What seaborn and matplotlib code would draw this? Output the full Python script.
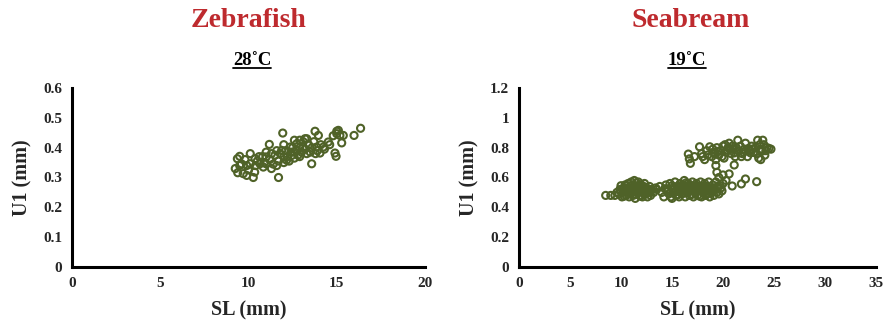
import matplotlib
matplotlib.use("Agg")
import matplotlib.pyplot as plt
import seaborn as sns
import pandas as pd
from matplotlib.lines import Line2D

# Zebrafish, 28 °C: standard length (mm) vs U1 (mm)
zebra_sl = [9.25, 9.37, 9.5, 9.39, 9.7, 9.9, 10.27, 10.1, 10.1, 10.35, 9.9, 9.6,
            10.37, 10.65, 11.0, 11.18, 11.0, 11.3, 10.84, 11.6, 11.7, 11.94, 11.88,
            12.0, 12.16, 12.35, 12.45, 12.6, 12.73, 12.9, 13.1, 13.2, 13.3, 13.58,
            13.77, 13.96, 13.86, 14.05, 14.24, 14.52, 14.9, 14.96, 15.0, 15.09,
            15.18, 15.28, 15.37, 15.98, 16.35,
            10.5, 10.8, 11.0, 11.2, 11.4, 11.5, 11.7, 11.8, 12.0, 12.1, 12.2, 12.3,
            12.4, 12.5, 12.6, 12.7, 12.8, 12.9, 13.0, 13.1, 13.2, 13.4, 13.5, 13.6,
            13.7, 13.9, 14.1, 14.3, 14.6, 12.0, 12.6, 13.3, 11.3, 10.9, 10.6, 9.5,
            9.8, 10.0, 10.4, 11.6, 12.9, 13.8, 15.0, 14.8]
zebra_u1 = [0.330, 0.363, 0.371, 0.316, 0.313, 0.307, 0.300, 0.380, 0.346, 0.318,
            0.340, 0.346, 0.363, 0.346, 0.369, 0.411, 0.346, 0.330, 0.335, 0.340,
            0.300, 0.449, 0.391, 0.369, 0.358, 0.402, 0.374, 0.385, 0.413, 0.425,
            0.402, 0.430, 0.380, 0.346, 0.455, 0.441, 0.402, 0.382, 0.402, 0.419,
            0.382, 0.371, 0.447, 0.458, 0.441, 0.416, 0.441, 0.441, 0.465,
            0.355, 0.370, 0.385, 0.360, 0.345, 0.375, 0.355, 0.380, 0.350, 0.390,
            0.370, 0.355, 0.385, 0.400, 0.365, 0.390, 0.375, 0.400, 0.385, 0.420,
            0.395, 0.410, 0.385, 0.400, 0.420, 0.390, 0.410, 0.395, 0.410, 0.410,
            0.425, 0.430, 0.380, 0.350, 0.370, 0.340, 0.360, 0.325, 0.340, 0.390,
            0.370, 0.380, 0.455, 0.440]

# Seabream, 19 °C: standard length (mm) vs U1 (mm)
bream_sl = [8.5, 9.0, 9.4, 9.8, 9.9, 10.1, 10.2, 10.3, 10.4, 10.5, 10.6, 10.7, 10.8,
            10.9, 11.0, 11.0, 11.1, 11.2, 11.3, 11.3, 11.4, 11.5, 11.6, 11.7, 11.8,
            11.9, 12.0, 12.1, 12.2, 12.3, 12.4, 12.5, 12.6, 12.7, 12.8, 12.9, 13.0,
            13.2, 13.4, 10.0, 10.6, 11.1, 11.5, 11.9, 12.2, 10.3, 10.8, 11.7, 12.6,
            9.6, 11.4, 12.0,
            10.2, 10.5, 10.9, 11.2, 11.6, 11.8, 12.1, 12.4, 12.8, 10.7, 11.3, 12.3,
            13.8, 14.0, 14.2, 14.4, 14.5, 14.7, 14.8, 15.0, 15.1, 15.2, 15.3, 15.4,
            15.5, 15.6, 15.7, 15.8, 15.9, 16.0, 16.1, 16.2, 16.3, 16.4, 16.5, 16.6,
            16.7, 16.8, 16.9, 17.0, 17.1, 17.2, 17.3, 17.4, 17.5, 17.6, 17.7, 17.8,
            17.9, 18.0, 18.1, 18.2, 18.3, 18.4, 18.5, 18.6, 18.7, 18.8, 18.9, 19.0,
            19.1, 19.2, 19.3, 19.4, 19.5, 19.6, 19.8, 20.0, 19.9, 14.6, 15.0, 15.6,
            16.0, 16.4, 16.9, 17.3, 17.7, 18.2, 18.6, 19.0, 13.5, 14.9, 15.8, 16.6,
            17.5, 18.4,
            15.2, 15.5, 15.9, 16.2, 16.7, 17.1, 17.6, 18.0, 18.8, 19.4, 14.3, 15.4,
            16.3, 17.2, 18.1, 19.7,
            19.3, 19.4, 20.0, 20.6, 21.1, 20.9, 21.8, 22.2, 23.3, 19.6, 20.3,
            16.6, 16.8, 16.7, 17.2, 17.7, 17.9, 18.2, 18.4, 18.7, 18.9, 19.1, 19.3,
            19.4, 19.6, 19.8, 20.0, 20.1, 20.3, 20.5, 20.6, 20.8, 21.0, 21.2, 21.45,
            21.5, 21.7, 21.9, 22.1, 22.2, 22.4, 22.6, 22.8, 23.0, 23.2, 23.4, 23.5,
            23.7, 23.7, 23.9, 24.0, 24.1, 24.3, 24.5, 24.7, 18.0, 19.0, 19.9, 20.7,
            21.3, 22.0, 22.9, 23.6, 24.2, 18.5, 20.2, 21.8, 23.3,
            19.5, 20.4, 21.1, 22.5, 23.8, 20.9, 22.7, 19.2]
bream_u1 = [0.48, 0.48, 0.48, 0.49, 0.52, 0.47, 0.50, 0.53, 0.55, 0.48, 0.51, 0.56,
            0.47, 0.53, 0.50, 0.57, 0.55, 0.48, 0.52, 0.58, 0.46, 0.54, 0.50, 0.57,
            0.48, 0.53, 0.55, 0.47, 0.51, 0.56, 0.49, 0.53, 0.47, 0.51, 0.54, 0.48,
            0.52, 0.50, 0.53, 0.545, 0.53, 0.51, 0.565, 0.475, 0.54, 0.475, 0.505,
            0.515, 0.525, 0.50, 0.49, 0.50,
            0.52, 0.545, 0.49, 0.535, 0.52, 0.55, 0.525, 0.51, 0.50, 0.50, 0.545, 0.535,
            0.54, 0.50, 0.47, 0.55, 0.52, 0.49, 0.56, 0.46, 0.53, 0.50, 0.57, 0.48,
            0.54, 0.51, 0.47, 0.56, 0.52, 0.49, 0.55, 0.58, 0.47, 0.53, 0.50, 0.56,
            0.48, 0.54, 0.51, 0.57, 0.47, 0.53, 0.50, 0.56, 0.48, 0.54, 0.51, 0.57,
            0.47, 0.53, 0.50, 0.56, 0.48, 0.54, 0.51, 0.57, 0.47, 0.53, 0.50, 0.55,
            0.48, 0.52, 0.57, 0.50, 0.54, 0.49, 0.53, 0.56, 0.51, 0.51, 0.545, 0.485,
            0.53, 0.565, 0.485, 0.535, 0.475, 0.525, 0.495, 0.515, 0.52, 0.47, 0.50,
            0.52, 0.52, 0.49,
            0.52, 0.535, 0.545, 0.515, 0.53, 0.545, 0.525, 0.54, 0.52, 0.535, 0.525,
            0.505, 0.505, 0.51, 0.515, 0.545,
            0.68, 0.635, 0.617, 0.624, 0.684, 0.543, 0.557, 0.59, 0.572, 0.60, 0.58,
            0.757, 0.695, 0.725, 0.74, 0.806, 0.76, 0.72, 0.78, 0.806, 0.74, 0.77,
            0.72, 0.80, 0.75, 0.78, 0.81, 0.73, 0.77, 0.80, 0.83, 0.76, 0.79, 0.74,
            0.85, 0.78, 0.81, 0.76, 0.79, 0.83, 0.74, 0.78, 0.81, 0.77, 0.80, 0.85,
            0.73, 0.72, 0.79, 0.85, 0.82, 0.75, 0.80, 0.795, 0.79, 0.74, 0.79, 0.74,
            0.79, 0.80, 0.77, 0.79, 0.82, 0.78, 0.75, 0.82, 0.74, 0.76,
            0.775, 0.785, 0.765, 0.795, 0.775, 0.81, 0.765, 0.76]

species = ["Zebrafish", "Seabream"]
temps = ["28˚C", "19˚C"]
x_limits = [(0, 20), (0, 35)]
x_ticks = [[0, 5, 10, 15, 20], [0, 5, 10, 15, 20, 25, 30, 35]]
y_limits = [(0, 0.6), (0, 1.2)]
y_ticks = [[0, 0.1, 0.2, 0.3, 0.4, 0.5, 0.6], [0, 0.2, 0.4, 0.6, 0.8, 1.0, 1.2]]
y_labels = [["0", "0.1", "0.2", "0.3", "0.4", "0.5", "0.6"],
            ["0", "0.2", "0.4", "0.6", "0.8", "1", "1.2"]]

sns.set_style("white")
plt.rcParams["font.family"] = ["Liberation Serif", "DejaVu Serif"]
plt.rcParams["font.weight"] = "bold"

MARKER = "#4F6228"
TITLE = "#BE2A2E"

W, H = 886, 320
fig = plt.figure(figsize=(W / 100, H / 100), dpi=100)
axes_boxes = [(72 / W, 1 - 267 / H, 353 / W, 179 / H),
              (519 / W, 1 - 267 / H, 357 / W, 179 / H)]
title_x = [249 / W, 691 / W]
temp_x = [252 / W, 687 / W]

frames = [pd.DataFrame({"SL": zebra_sl, "U1": zebra_u1}),
          pd.DataFrame({"SL": bream_sl, "U1": bream_u1})]

for i, df in enumerate(frames):
    ax = fig.add_axes(axes_boxes[i])
    sns.scatterplot(data=df, x="SL", y="U1", ax=ax, marker="o", s=26,
                    facecolors="none", edgecolor=MARKER, linewidth=1.5)
    ax.set_xlim(*x_limits[i])
    ax.set_ylim(*y_limits[i])
    ax.set_xticks(x_ticks[i])
    ax.set_yticks(y_ticks[i])
    ax.set_yticklabels(y_labels[i])
    for side in ("top", "right"):
        ax.spines[side].set_visible(False)
    for side in ("left", "bottom"):
        ax.spines[side].set_color("black")
        ax.spines[side].set_linewidth(2.2)
    ax.tick_params(axis="both", direction="out", length=4, width=1.6,
                   color="black", labelsize=11, pad=3)
    for lab in ax.get_xticklabels() + ax.get_yticklabels():
        lab.set_fontweight("bold")
    ax.set_xlabel("SL (mm)", fontsize=14.5, fontweight="bold", labelpad=8)
    ax.set_ylabel("U1 (mm)", fontsize=14.5, fontweight="bold", labelpad=8)
    for coll in ax.collections:
        coll.set_clip_on(False)

    fig.text(title_x[i], 0.935, species[i], ha="center", va="center", fontsize=20,
             fontweight="bold", color=TITLE)
    fig.text(temp_x[i], 0.81, temps[i], ha="center", va="center", fontsize=13.5,
             fontweight="bold", color="black")

# underline the temperature headings
fig.canvas.draw()
renderer = fig.canvas.get_renderer()
for t in fig.texts:
    if t.get_text() in temps:
        ext = t.get_window_extent(renderer).transformed(fig.transFigure.inverted())
        fig.add_artist(Line2D([ext.x0, ext.x1], [ext.y0 + 0.004, ext.y0 + 0.004],
                              transform=fig.transFigure, color="black", linewidth=1.3))

fig.savefig("out.png", dpi=100, facecolor="white")
